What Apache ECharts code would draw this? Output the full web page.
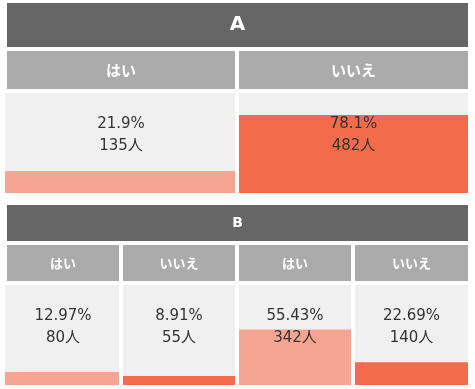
<!DOCTYPE html>
<html>
<head>
<meta charset="utf-8">
<script src="https://cdn.jsdelivr.net/npm/echarts@6/dist/echarts.min.js"></script>
<style>
html,body{margin:0;padding:0;background:#fff;}
#chart{width:475px;height:389px;}
</style>
</head>
<body>
<div id="chart"></div>
<script>
// ---- data ----
var titleA = 'A';
var categoriesA = ['はい', 'いいえ'];
var percentA = [21.9, 78.1];
var countA = [135, 482];

var titleB = 'B';
var categoriesB = ['はい', 'いいえ', 'はい', 'いいえ'];
var percentB = [12.97, 8.91, 55.43, 22.69];
var countB = [80, 55, 342, 140];

// ---- layout / style ----
var FONT = '"DejaVu Sans", "Noto Sans CJK JP", sans-serif';
var HFONT = '"DejaVu Sans", "Noto Sans CJK JP", sans-serif';
var C_HEAD = '#666666', C_SUB = '#ababab', C_CELL = '#f0f0f0';
var C_BARS = ['#f7a593', '#f26b4b'];

var cellsA = [{x: 5, hx: 7, r: 235}, {x: 239, hx: 239, r: 468}];
var cellsB = [{x: 5, hx: 7, r: 119}, {x: 123, hx: 123, r: 235}, {x: 239, hx: 239, r: 351}, {x: 355, hx: 355, r: 468}];

var sections = [
  {title: titleA, cats: categoriesA, pct: percentA, cnt: countA, cells: cellsA,
   headTop: 3, headH: 44, headFont: 20, subTop: 51, subH: 38, subFont: 15, cellTop: 93, cellH: 100},
  {title: titleB, cats: categoriesB, pct: percentB, cnt: countB, cells: cellsB,
   headTop: 205, headH: 36, headFont: 14, subTop: 245, subH: 36, subFont: 13, cellTop: 285, cellH: 100}
];

var grids = [], xAxes = [], yAxes = [], series = [], graphics = [];
sections.forEach(function (s) {
  graphics.push({type: 'rect', shape: {x: 7, y: s.headTop, width: 461, height: s.headH}, style: {fill: C_HEAD}, silent: true});
  graphics.push({type: 'text', x: 237.5, y: s.headTop + s.headH / 2, style: {text: s.title, fill: '#fff', font: 'bold ' + s.headFont + 'px ' + HFONT, align: 'center', verticalAlign: 'middle'}});
  s.cells.forEach(function (c, i) {
    var idx = grids.length;
    graphics.push({type: 'rect', shape: {x: c.hx, y: s.subTop, width: c.r - c.hx, height: s.subH}, style: {fill: C_SUB}, silent: true});
    graphics.push({type: 'text', x: (c.hx + c.r) / 2, y: s.subTop + s.subH / 2, style: {text: s.cats[i], fill: '#fff', font: 'bold ' + s.subFont + 'px "Noto Sans CJK JP", sans-serif', align: 'center', verticalAlign: 'middle'}});
    grids.push({left: c.x, top: s.cellTop, width: c.r - c.x, height: s.cellH, containLabel: false});
    xAxes.push({type: 'category', gridIndex: idx, data: [s.cats[i]], show: false});
    yAxes.push({type: 'value', gridIndex: idx, min: 0, max: 100, show: false});
    series.push({
      type: 'bar', xAxisIndex: idx, yAxisIndex: idx,
      data: [s.pct[i]], barWidth: '100%', barCategoryGap: 0,
      showBackground: true, backgroundStyle: {color: C_CELL},
      itemStyle: {color: C_BARS[i % 2]}, silent: true, animation: false
    });
    var cx = (c.hx + c.r) / 2;
    graphics.push({type: 'text', z: 100, x: cx, y: s.cellTop + 31, style: {text: s.pct[i] + '%', fill: '#333', font: '15px ' + FONT, align: 'center', verticalAlign: 'middle'}});
    graphics.push({type: 'text', z: 100, x: cx, y: s.cellTop + 53, style: {text: s.cnt[i] + '人', fill: '#333', font: '15px ' + FONT, align: 'center', verticalAlign: 'middle'}});
  });
});

var chart = echarts.init(document.getElementById('chart'), null, {renderer: 'canvas'});
chart.setOption({
  animation: false,
  backgroundColor: '#fff',
  grid: grids, xAxis: xAxes, yAxis: yAxes, series: series,
  graphic: graphics
});
</script>
</body>
</html>
